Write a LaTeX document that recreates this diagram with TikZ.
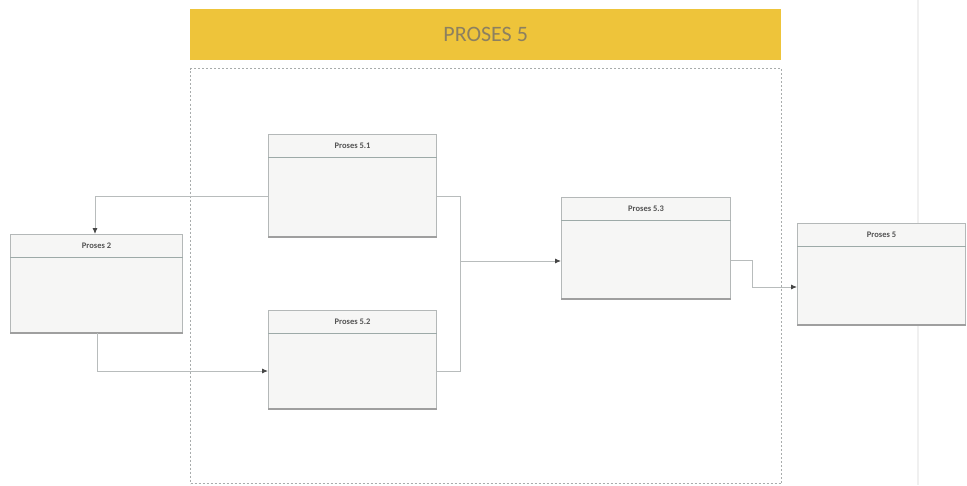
\documentclass[tikz,border=0pt]{standalone}
\usepackage{fontspec}
\setmainfont{Carlito}
\usetikzlibrary{arrows.meta}
\definecolor{banner}{HTML}{EEC43A}
\definecolor{bantext}{HTML}{8C8060}
\definecolor{boxline}{HTML}{B4B8B8}
\definecolor{boxfill}{HTML}{F6F6F5}
\definecolor{divline}{HTML}{9DAAA8}
\definecolor{conn}{HTML}{B8BCBC}
\definecolor{frame}{HTML}{A8ACAC}
\tikzset{
  x=1pt, y=-1pt,
  pbox/.style={draw=boxline, fill=boxfill, line width=1.2pt, anchor=north west, inner sep=0pt},
  phdr/.style={anchor=north, inner sep=0pt, font=\bfseries\fontsize{8.5}{10}\selectfont, text=gray!65!black},
  divider/.style={draw=divline, line width=1.4pt},
  shadowline/.style={draw=gray!75, line width=2pt},
  conline/.style={draw=conn, line width=0.9pt, -{Latex[length=6pt,width=5pt,color=gray!55!black]}},
  conplain/.style={draw=conn, line width=0.9pt},
}
\newcommand{\procbox}[6]{% name, x, y, w, h, label
  \node[pbox, minimum width=#4pt, minimum height=#5pt] (#1) at (#2,#3) {};
  \node[phdr, minimum width=#4pt, minimum height=23pt] (#1h) at (#1.north) {#6};
  \draw[divider] (#1h.south west) -- (#1h.south east);
  \draw[shadowline] (#1.south west) -- (#1.south east);
}
\begin{document}
\begin{tikzpicture}
\useasboundingbox[fill=white] (0,0) rectangle (967,485);
% faint scan line
\draw[gray!12, line width=1.5pt] (918,0) -- (918,485);
% banner
\node[fill=banner, minimum width=591pt, minimum height=51pt, inner sep=0pt, anchor=north west,
      font=\fontsize{22}{24}\selectfont, text=bantext] (banner) at (190,9) {PROSES 5};
% dashed frame
\node[draw=frame, dash pattern=on 2pt off 2pt, line width=1pt, minimum width=591pt, minimum height=415pt,
      anchor=north west, inner sep=0pt] (frame) at (190,68) {};
% boxes
\procbox{p51}{268}{134}{168}{102}{Proses 5.1}
\procbox{p2}{10}{234}{172}{98}{Proses 2}
\procbox{p52}{268}{310}{168}{98}{Proses 5.2}
\procbox{p53}{561}{197}{169}{101}{Proses 5.3}
\procbox{p5}{797}{223}{168}{101}{Proses 5}
% junction coordinates
\coordinate (j1) at (460,261);
\coordinate (j2) at (752,287);
% connectors
\draw[conline] (p51.west |- 0,196) -| (p2.north -| 95,0);
\draw[conline] (p2.south -| 97,0) |- (p52.west |- 0,371);
\draw[conplain] (p51.east |- 0,196) -| (j1);
\draw[conplain] (p52.east |- 0,371) -| (j1);
\draw[conline] (j1) -- (p53.west |- j1);
\draw[conline] (p53.east |- 0,260) -| (j2) -- (p5.west |- j2);
\end{tikzpicture}
\end{document}
